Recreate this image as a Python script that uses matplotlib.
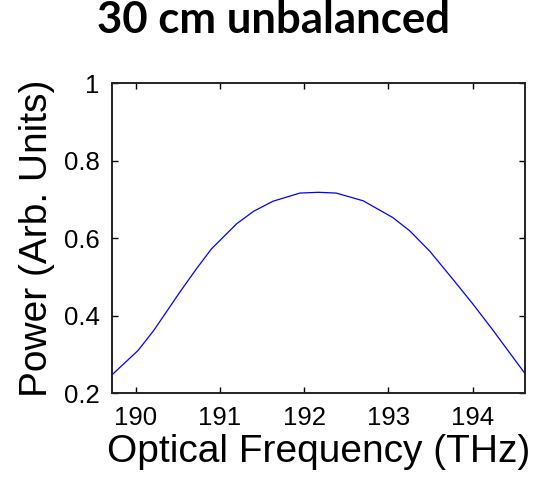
import matplotlib
matplotlib.use('Agg')
import matplotlib.pyplot as plt

# values
freq = [189.72, 189.74, 190.03, 190.21, 190.33, 190.53, 190.73, 190.90, 191.20, 191.40,
        191.63, 191.95, 192.17, 192.38, 192.70, 193.05, 193.25, 193.49, 193.77,
        194.00, 194.24, 194.44, 194.59, 194.62]
power = [0.247, 0.251, 0.310, 0.360, 0.398, 0.462, 0.523, 0.572, 0.637, 0.669,
         0.695, 0.716, 0.718, 0.716, 0.696, 0.653, 0.619, 0.566, 0.492,
         0.430, 0.362, 0.303, 0.259, 0.250]

xticks = [190, 191, 192, 193, 194]
yticks = [0.2, 0.4, 0.6, 0.8, 1.0]
ytick_labels = ['0.2', '0.4', '0.6', '0.8', '1']

tick_font = ['Liberation Sans', 'DejaVu Sans']
label_font = ['Liberation Sans', 'DejaVu Sans']

fig = plt.figure(figsize=(5.39, 4.83), dpi=100)
ax = fig.add_axes([0.2078, 0.1863, 0.7663, 0.6418])

ax.plot(freq, power, color=(0, 0, 1), linewidth=0.9)

ax.set_xlim(189.72, 194.62)
ax.set_ylim(0.2, 1.0)
ax.set_xticks(xticks)
ax.set_xticklabels([str(t) for t in xticks], family=tick_font, fontsize=18.5)
ax.set_yticks(yticks)
ax.set_yticklabels(ytick_labels, family=tick_font, fontsize=18.5)
ax.tick_params(direction='in', length=4, width=1.0, top=True, right=True, pad=9)

for s in ax.spines.values():
    s.set_linewidth(1.4)
    s.set_color('#222222')

ax.set_xlabel('Optical Frequency (THz)', family=label_font, fontsize=28, labelpad=3)
ax.set_ylabel('Power (Arb. Units)', family=label_font, fontsize=28, labelpad=6)

fig.text(0.507, 0.958, '30 cm unbalanced', family=['Lato', 'DejaVu Sans'],
         fontweight='bold', fontsize=31.5, ha='center', va='center')

fig.savefig('out.png', dpi=100)
